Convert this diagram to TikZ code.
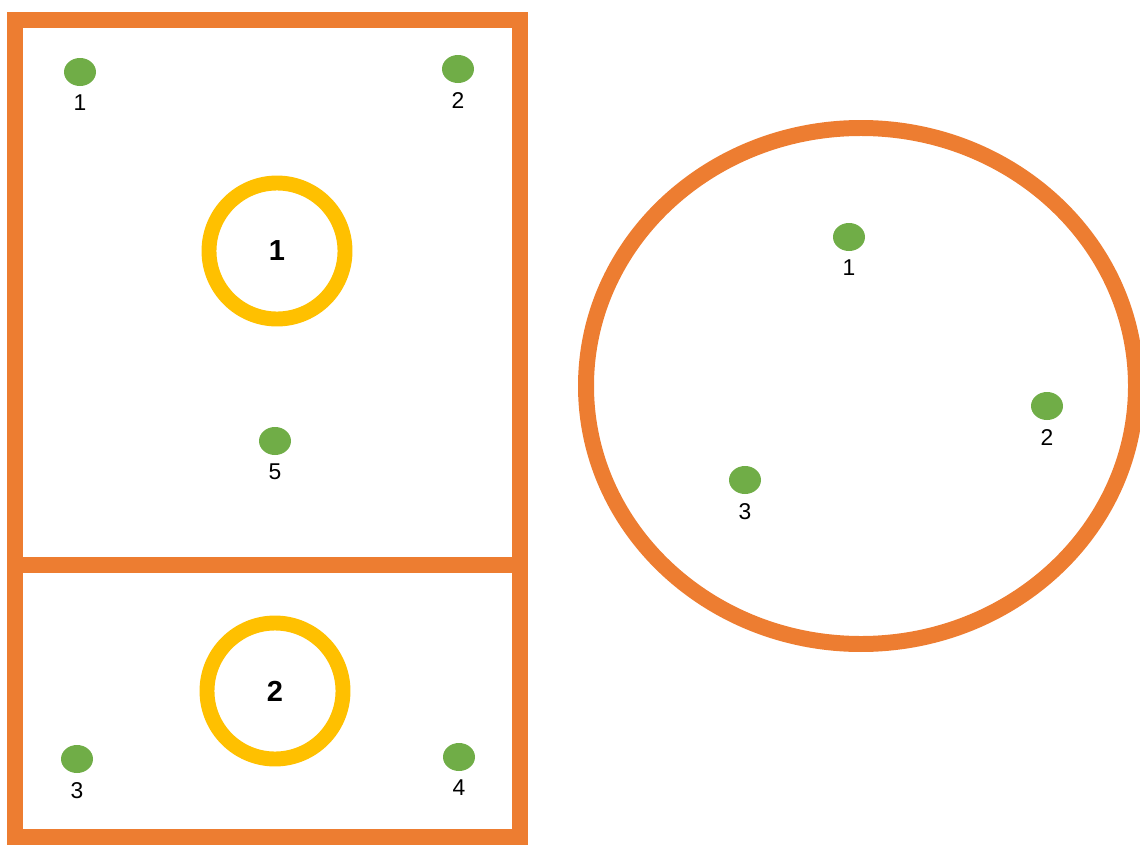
\documentclass[tikz,border=0pt]{standalone}
\usepackage{fontspec}
\setmainfont{Liberation Sans}
\usepackage{tikz}
\usetikzlibrary{shapes.geometric}

\definecolor{frameorange}{HTML}{ED7D31}
\definecolor{ringyellow}{HTML}{FFC000}
\definecolor{dotgreen}{HTML}{70AD47}

\begin{document}
\begin{tikzpicture}[x=0.02cm,y=-0.02cm,
    frame/.style={draw=frameorange,line width=9.1pt},
    ring/.style={circle,draw=ringyellow,line width=8.5pt,minimum size=136*0.02cm,
      inner sep=0pt,font=\fontsize{16.5}{18}\selectfont\bfseries},
    pt/.style={ellipse,fill=dotgreen,minimum width=32*0.02cm,minimum height=28*0.02cm,
      inner sep=0pt,label={[font=\fontsize{13}{15}\selectfont,label distance=1.5pt]below:#1}}]
  \useasboundingbox (0,0) rectangle (1140,845);
  % left panel
  \draw[frame] (15,20) rectangle (520,837);
  \draw[frame] (15,565) -- (520,565);
  \node[ring] (r1) at (277,251) {1};
  \node[ring] (r2) at (275,691) {2};
  \node[pt=1] (a1) at (80,72) {};
  \node[pt=2] (a2) at (458,69) {};
  \node[pt=5] (a5) at (275,441) {};
  \node[pt=3] (a3) at (77,759) {};
  \node[pt=4] (a4) at (459,757) {};
  % right panel
  \draw[frame] (861,386) ellipse ({275} and {258});
  \node[pt=1] (b1) at (849,237) {};
  \node[pt=2] (b2) at (1047,406) {};
  \node[pt=3] (b3) at (745,480) {};
\end{tikzpicture}
\end{document}
